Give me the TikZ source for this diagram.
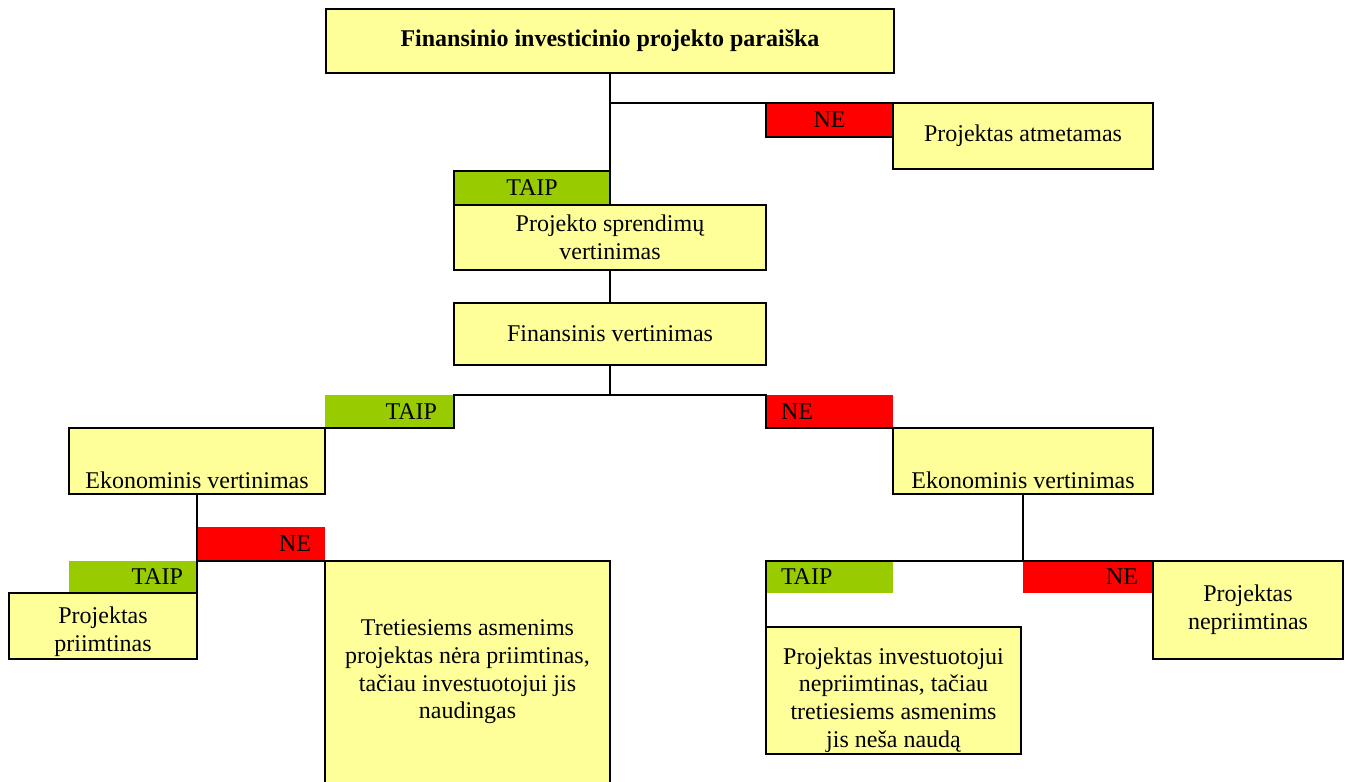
\documentclass[tikz,border=0pt]{standalone}
\usepackage{fontspec}
\setmainfont{Liberation Serif}
\definecolor{boxyellow}{HTML}{FFFF99}
\definecolor{taipgreen}{HTML}{99CC00}
\definecolor{nered}{HTML}{FF0000}
\newcommand\myfs{\fontsize{12}{13.8}\selectfont}
\begin{document}
\begin{tikzpicture}[x=0.5pt,y=-0.5pt,
  ybox/.style={draw, line width=1pt, fill=boxyellow, inner sep=0pt, outer sep=0pt, font=\myfs, align=center},
  ekon/.style={minimum height=33pt, text height=29pt, text depth=2pt, inner ysep=1pt},
  txt/.style={inner sep=0pt, outer sep=0pt, font=\myfs, align=center},
  lab/.style={inner ysep=0pt, inner xsep=0pt, outer sep=0pt, font=\myfs},
  conn/.style={line width=1pt}]
\useasboundingbox (0,0) rectangle (1351,782);
\clip (0,0) rectangle (1351,782);
% labels
\node[lab, fill=nered, draw, line width=1pt, minimum width=63.5pt, minimum height=17pt] (ne1) at (829.5,120) {NE};
\node[lab, fill=taipgreen, draw, line width=1pt, minimum width=78pt, minimum height=17pt] (taip1) at (532,188) {TAIP};
\node[lab, fill=taipgreen, minimum width=64.5pt, minimum height=16.5pt, inner xsep=8.5pt, text width=47.5pt, align=right] (taip2) at (389.5,411.5) {TAIP};
\node[lab, fill=nered, minimum width=63.5pt, minimum height=16.5pt, inner xsep=7.5pt, text width=48.5pt, align=left] (ne2) at (829.5,411.5) {NE};
\node[lab, fill=nered, minimum width=64pt, minimum height=17pt, inner xsep=7pt, text width=50pt, align=right] (ne3) at (261,544) {NE};
\node[lab, fill=taipgreen, minimum width=64pt, minimum height=16pt, inner xsep=7pt, text width=50pt, align=right] (taip3) at (133,577) {TAIP};
\node[lab, fill=taipgreen, minimum width=63.5pt, minimum height=16pt, inner xsep=7.5pt, text width=48.5pt, align=left] (taip4) at (829.5,577) {TAIP};
\node[lab, fill=nered, minimum width=65pt, minimum height=16pt, inner xsep=7.5pt, text width=50pt, align=right] (ne4) at (1088,577) {NE};
% boxes
\node[ybox, minimum width=284pt, minimum height=32pt, font=\myfs\bfseries] (top) at (610,41) {Finansinio investicinio projekto paraiška};
\node[ybox, minimum width=130pt, minimum height=33pt] (atm) at (1023,136) {Projektas atmetamas};
\node[ybox, minimum width=156pt, minimum height=32.5pt] (proj) at (610,237.5) {Projekto sprendimų\\vertinimas};
\node[ybox, minimum width=156pt, minimum height=31pt] (fin) at (610,334) {Finansinis vertinimas};
\node[ybox, ekon, minimum width=128pt] (ekL) at (197,461) {Ekonominis vertinimas};
\node[ybox, ekon, minimum width=130pt] (ekR) at (1023,461) {Ekonominis vertinimas};
\node[ybox, minimum width=94pt, minimum height=33pt] (priim) at (103,626) {};
\node[txt] (priimT) at (103,632) {Projektas\\priimtinas};
\node[ybox, minimum width=142.5pt, minimum height=114.5pt] (tret) at (467.5,675.5) {};
\node[txt] (tretT) at (467.5,672) {Tretiesiems asmenims\\projektas nėra priimtinas,\\tačiau investuotojui jis\\naudingas};
\node[ybox, minimum width=127.5pt, minimum height=63.5pt] (inv) at (893.5,690.5) {};
\node[txt] (invT) at (893.5,700) {Projektas investuotojui\\nepriimtinas, tačiau\\tretiesiems asmenims\\jis neša naudą};
\node[ybox, minimum width=95pt, minimum height=49pt] (npr) at (1248,610) {Projektas\\nepriimtinas};
% connectors
\coordinate (j2) at (610,395);
\draw[conn] (top.south) -- (taip1.north east);
\draw[conn] (top.south |- ne1.north) -- (ne1.north west);
\draw[conn] (proj.south) -- (fin.north);
\draw[conn] (fin.south) -- (j2);
\draw[conn] (j2) -- (taip2.north east) -- (taip2.south east) -- (ekL.north east);
\draw[conn] (j2) -- (ne2.north west) -- (ne2.south west) -- (ekR.north west);
\draw[conn] (ekL.south) -- (priim.north east);
\draw[conn] (ekL.south) -- (ne3.south west) -- (tret.north west);
\draw[conn] (ekR.south) -- (ne4.north west) -- (npr.north west);
\draw[conn] (ne4.north west) -- (taip4.north west) -- (inv.north west);
\end{tikzpicture}
\end{document}
